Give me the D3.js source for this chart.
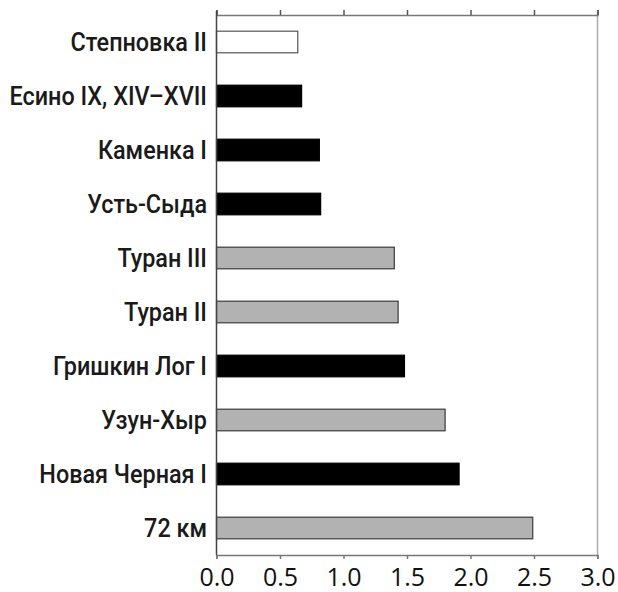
<!DOCTYPE html>
<html><head><meta charset="utf-8">
<script src="https://cdn.jsdelivr.net/npm/d3@7"></script>
<style>
body{margin:0;background:#fff;}
svg text{font-family:Roboto,"Liberation Sans",sans-serif;}
</style></head>
<body><svg id="c" width="618" height="592"></svg>
<script>
const categories = ["Степновка II","Есино IX, XIV–XVII","Каменка I","Усть-Сыда","Туран III","Туран II","Гришкин Лог I","Узун-Хыр","Новая Черная I","72 км"];
const values = [0.64, 0.67, 0.81, 0.82, 1.40, 1.43, 1.48, 1.80, 1.91, 2.49];
const groups = ["white","black","black","black","gray","gray","black","gray","black","gray"];
const tickValues = [0, 0.5, 1.0, 1.5, 2.0, 2.5, 3.0];

const fills = {white:"#ffffff", black:"#000000", gray:"#b2b2b2"};
const strokes = {white:"#555555", black:"#000000", gray:"#3a3a3a"};

const svg = d3.select("#c");
const m = {left:216.5, right:597.5, top:15, bottom:555};
const x = d3.scaleLinear().domain([0,3]).range([m.left, m.right]);
const y = d3.scaleBand().domain(categories).range([m.top, m.bottom]).paddingInner(0.6).paddingOuter(0.3);

// right border line
svg.append("line").attr("x1",x(3)).attr("x2",x(3)).attr("y1",m.top-4).attr("y2",m.bottom)
  .attr("stroke","#aaa").attr("stroke-width",1.5);

// top axis
const topAxis = svg.append("g").attr("transform",`translate(0,${m.top})`)
  .call(d3.axisTop(x).tickValues(tickValues).tickSize(5).tickFormat(""));
topAxis.select(".domain").attr("stroke","#777").attr("stroke-width",1.5);
topAxis.selectAll(".tick line").attr("stroke","#555").attr("stroke-width",1.5);

// bottom axis
const botAxis = svg.append("g").attr("transform",`translate(0,${m.bottom})`)
  .call(d3.axisBottom(x).tickValues(tickValues).tickSize(4).tickPadding(9).tickFormat(d3.format(".1f")));
botAxis.select(".domain").attr("stroke","#777").attr("stroke-width",1.5);
botAxis.selectAll(".tick line").attr("stroke","#777").attr("stroke-width",1.5);
botAxis.selectAll(".tick text").attr("font-size",25).attr("fill","#111")
  .style("font-family","'Open Sans',sans-serif");

// bars
svg.append("g").selectAll("rect").data(categories).join("rect")
  .attr("x", x(0)).attr("y", d=>y(d))
  .attr("width", (d,i)=>x(values[i])-x(0)).attr("height", y.bandwidth())
  .attr("fill", (d,i)=>fills[groups[i]]).attr("stroke",(d,i)=>strokes[groups[i]]).attr("stroke-width",1.2);

// left axis line
svg.append("line").attr("x1",x(0)).attr("x2",x(0)).attr("y1",m.top-4).attr("y2",m.bottom)
  .attr("stroke","#444").attr("stroke-width",1.5);

// labels
svg.append("g").selectAll("text").data(categories).join("text")
  .attr("transform", d=>`translate(207,${y(d)+y.bandwidth()/2}) scale(0.9,1)`)
  .attr("dy","0.36em").attr("text-anchor","end")
  .attr("font-size",26).attr("font-weight",500).attr("fill","#1a1a1a").text(d=>d);
</script></body></html>
